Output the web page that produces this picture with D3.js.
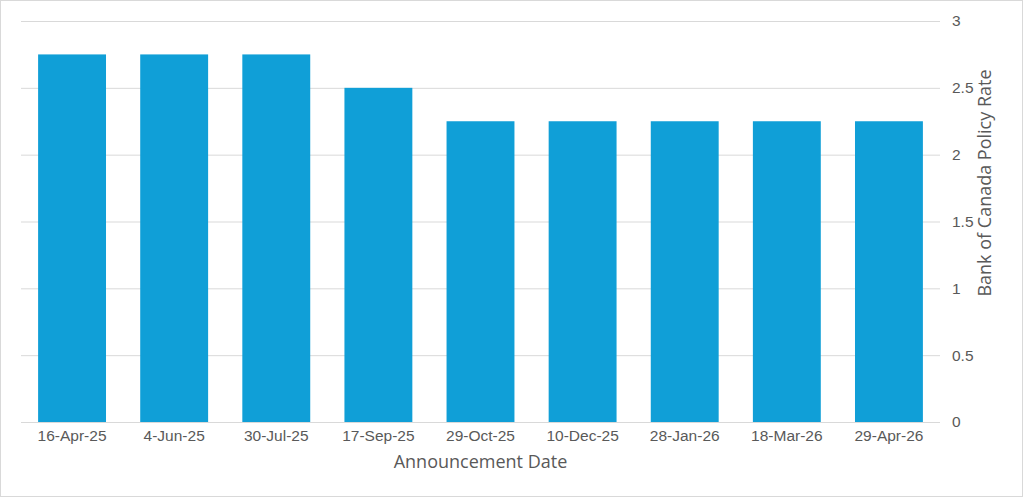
<!DOCTYPE html>
<html>
<head>
<meta charset="utf-8">
<script src="https://cdn.jsdelivr.net/npm/d3@7"></script>
<style>
  html, body { margin: 0; padding: 0; background: #fff; }
  svg { display: block; font-family: "Open Sans", Lato, sans-serif; }
</style>
</head>
<body>
<div class="container"></div>
<script>
var dates = ['16-Apr-25', '4-Jun-25', '30-Jul-25', '17-Sep-25', '29-Oct-25', '10-Dec-25', '28-Jan-26', '18-Mar-26', '29-Apr-26'];
var rates = [2.75, 2.75, 2.75, 2.5, 2.25, 2.25, 2.25, 2.25, 2.25];
var yTicks = [0, 0.5, 1, 1.5, 2, 2.5, 3];

var WIDTH = 1023, HEIGHT = 497;
var LEFT = 21, RIGHT = 940, TOP = 21, BOTTOM = 422;

var svg = d3.select('.container').append('svg')
    .attr('width', WIDTH)
    .attr('height', HEIGHT);

svg.append('rect')
    .attr('x', 0.5).attr('y', 0.5)
    .attr('width', WIDTH - 1).attr('height', HEIGHT - 1)
    .attr('fill', '#fff')
    .attr('stroke', '#d9d9d9');

var xScale = d3.scaleBand()
    .domain(dates)
    .range([LEFT, RIGHT])
    .paddingInner(0.335)
    .paddingOuter(0.1675);

var yScale = d3.scaleLinear()
    .domain([0, 3])
    .range([BOTTOM, TOP]);

// gridlines
svg.append('g')
  .selectAll('line').data(yTicks)
  .enter().append('line')
    .attr('x1', LEFT).attr('x2', RIGHT)
    .attr('y1', function(d) { return yScale(d) + 0.5; })
    .attr('y2', function(d) { return yScale(d) + 0.5; })
    .attr('stroke', '#d9d9d9')
    .attr('stroke-width', 1);

// bars
svg.append('g')
  .selectAll('rect').data(rates)
  .enter().append('rect')
    .attr('x', function(d, i) { return xScale(dates[i]); })
    .attr('y', function(d) { return yScale(d); })
    .attr('width', xScale.bandwidth())
    .attr('height', function(d) { return yScale(0) - yScale(d); })
    .attr('fill', '#109fd7');

// y axis on the right
var yAxis = d3.axisRight(yScale).tickValues(yTicks).tickSize(0).tickPadding(12)
    .tickFormat(function(d) { return d; });
var yg = svg.append('g')
    .attr('transform', 'translate(' + RIGHT + ',0)')
    .call(yAxis);
yg.select('.domain').remove();
yg.selectAll('text')
    .attr('fill', '#595959')
    .style('font-size', '15.5px');

// x axis
var xAxis = d3.axisBottom(xScale).tickSize(0).tickPadding(8);
var xg = svg.append('g')
    .attr('transform', 'translate(0,' + BOTTOM + ')')
    .call(xAxis);
xg.select('.domain').remove();
xg.selectAll('text')
    .attr('fill', '#595959')
    .style('font-size', '15.5px');

// axis titles
svg.append('text')
    .attr('x', (LEFT + RIGHT) / 2)
    .attr('y', 468)
    .attr('text-anchor', 'middle')
    .attr('fill', '#595959')
    .style('font-size', '18px')
    .text('Announcement Date');

svg.append('text')
    .attr('transform', 'translate(991,183) rotate(-90)')
    .attr('text-anchor', 'middle')
    .attr('fill', '#595959')
    .style('font-size', '18px')
    .text('Bank of Canada Policy Rate');
</script>
</body>
</html>
